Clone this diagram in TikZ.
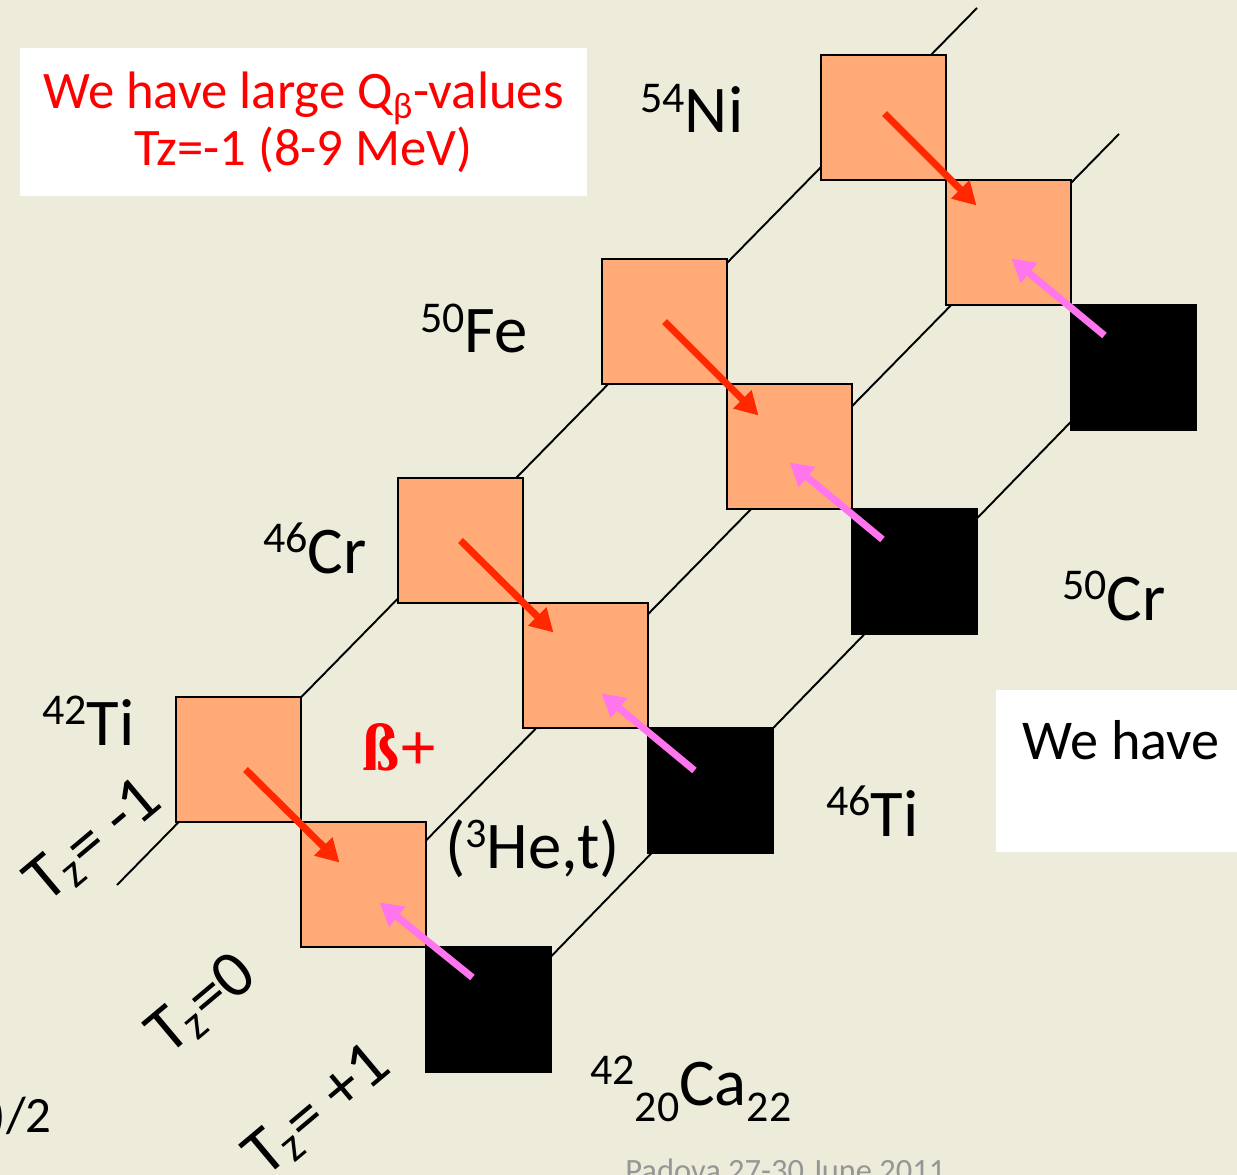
\documentclass[tikz,border=0pt]{standalone}
\usepackage{fontspec}
\setmainfont{Carlito}
\newfontfamily\betafont{Liberation Serif}
\usetikzlibrary{arrows.meta,positioning}

\definecolor{slidebg}{RGB}{237,236,218}
\definecolor{boxorange}{RGB}{255,170,119}
\definecolor{betared}{RGB}{255,40,0}
\definecolor{hetpink}{RGB}{255,117,238}
\definecolor{footgray}{RGB}{150,150,150}

\newcommand{\nuc}[2]{\raisebox{11.5pt}{\fontsize{25}{25}\selectfont #1}#2}
\newcommand{\lownum}[1]{\raisebox{-9.5pt}{\fontsize{25}{25}\selectfont #1}}

\begin{document}
\begin{tikzpicture}[x=0.02cm,y=-0.02cm,every node/.style={inner sep=0pt},
  nucl/.style={draw=black,line width=1pt,fill=boxorange,minimum size=2.5cm,outer sep=0pt},
  stab/.style={draw=black,line width=1pt,fill=black,minimum size=2.5cm,outer sep=0pt},
  isoline/.style={line width=1.1pt},
  betaarr/.style={draw=betared,line width=4pt,-{Triangle[length=13pt,width=14pt]}},
  hetarr/.style={draw=hetpink,line width=4pt,-{Triangle[length=13pt,width=14pt]}},
  lbl/.style={anchor=base west,font=\fontsize{38}{42}\selectfont},
  tzlbl/.style={anchor=base west,rotate=40,font=\fontsize{38}{42}\selectfont}]
\useasboundingbox (0,0) rectangle (1237,1175);
\clip (0,0) rectangle (1237,1175);
\fill[slidebg] (0,0) rectangle (1237,1175);

\coordinate (t1a) at (117,885);
\coordinate (t1b) at (977,8);
\coordinate (t0a) at (400,867);
\coordinate (t0b) at (1119,134);
\coordinate (tpa) at (500,1009);
\coordinate (tpb) at (1130,361);
\draw[isoline] (t1a) -- (t1b);
\draw[isoline] (t0a) -- (t0b);
\draw[isoline] (tpa) -- (tpb);

\node[nucl] (A1) at (238.5,759.5) {};
\node[nucl] (A2) at (460.5,540.5) {};
\node[nucl] (A3) at (664.5,321.5) {};
\node[nucl] (A4) at (883.5,117.5) {};
\node[nucl,below right=0pt of A1] (B1) {};
\node[nucl,below right=0pt of A2] (B2) {};
\node[nucl,below right=0pt of A3] (B3) {};
\node[nucl,below right=0pt of A4] (B4) {};
\node[stab,below right=0pt of B1] (C1) {};
\node[stab,below right=0pt of B2] (C2) {};
\node[stab,below right=0pt of B3] (C3) {};
\node[stab,below right=0pt of B4] (C4) {};

\draw[betaarr] ([shift={(7,10)}]A1.center) -- ([shift={(-24,-22)}]B1.center);
\draw[betaarr] (A2.center) -- ([shift={(-32,-33)}]B2.center);
\draw[betaarr] (A3.center) -- ([shift={(-31,-31)}]B3.center);
\draw[betaarr] ([shift={(1,-4)}]A4.center) -- ([shift={(-32,-37)}]B4.center);
\draw[hetarr] ([shift={(-16,-32)}]C1.center) -- ([shift={(16,18)}]B1.center);
\draw[hetarr] ([shift={(-16,-20)}]C2.center) -- ([shift={(16,28)}]B2.center);
\draw[hetarr] ([shift={(-32,-32)}]C3.center) -- ([shift={(0,16)}]B3.center);
\draw[hetarr] ([shift={(-29,-32)}]C4.center) -- ([shift={(3,16)}]B4.center);

\node[fill=white,minimum width=11.34cm,minimum height=2.96cm,text=red,align=center,
  font=\fontsize{30}{31}\selectfont] (qbox) at (303.5,122)
  {We have large Q\textsubscript{β}-values\\Tz=-1 (8-9 MeV)};
\node[fill=white,anchor=north west,minimum width=5.2cm,minimum height=3.24cm] (wbox) at (996,690) {};
\node[anchor=base west,font=\fontsize{32}{36}\selectfont] (wtxt) at (1022,759) {We have};

\node[lbl] (lNi) at (640,133) {\nuc{54}{Ni}};
\node[lbl] (lFe) at (420,353) {\nuc{50}{Fe}};
\node[lbl] (lCrA) at (263,573) {\nuc{46}{Cr}};
\node[lbl] (lTiA) at (42,745) {\nuc{42}{Ti}};
\node[lbl] (lTiB) at (826,836) {\nuc{46}{Ti}};
\node[lbl] (lCrB) at (1062,620) {\nuc{50}{Cr}};
\node[lbl] (lCa) at (590,1105) {\nuc{42}{}\lownum{20}Ca\lownum{22}};
\node[lbl] (lhet) at (445,868) {(\raisebox{11.5pt}{\fontsize{24}{24}\selectfont 3}He,t)};
\node[anchor=base west,text=red,font=\betafont\bfseries\fontsize{38}{40}\selectfont] (lbeta) at (362,770) {ß+};

\node[tzlbl] (tzm) at (46,905) {T\textsubscript{z}= -1};
\node[tzlbl] (tzo) at (168,1057) {T\textsubscript{z}=0};
\node[tzlbl] (tzp) at (265,1179) {T\textsubscript{z}= +1};

\node[anchor=base east,font=\fontsize{29}{32}\selectfont] (lhalf) at (52,1132) {)/2};
\node[anchor=base west,text=footgray,font=\fontsize{18.5}{20}\selectfont] (lfoot) at (625,1181) {Padova 27-30 June 2011};
\end{tikzpicture}
\end{document}
